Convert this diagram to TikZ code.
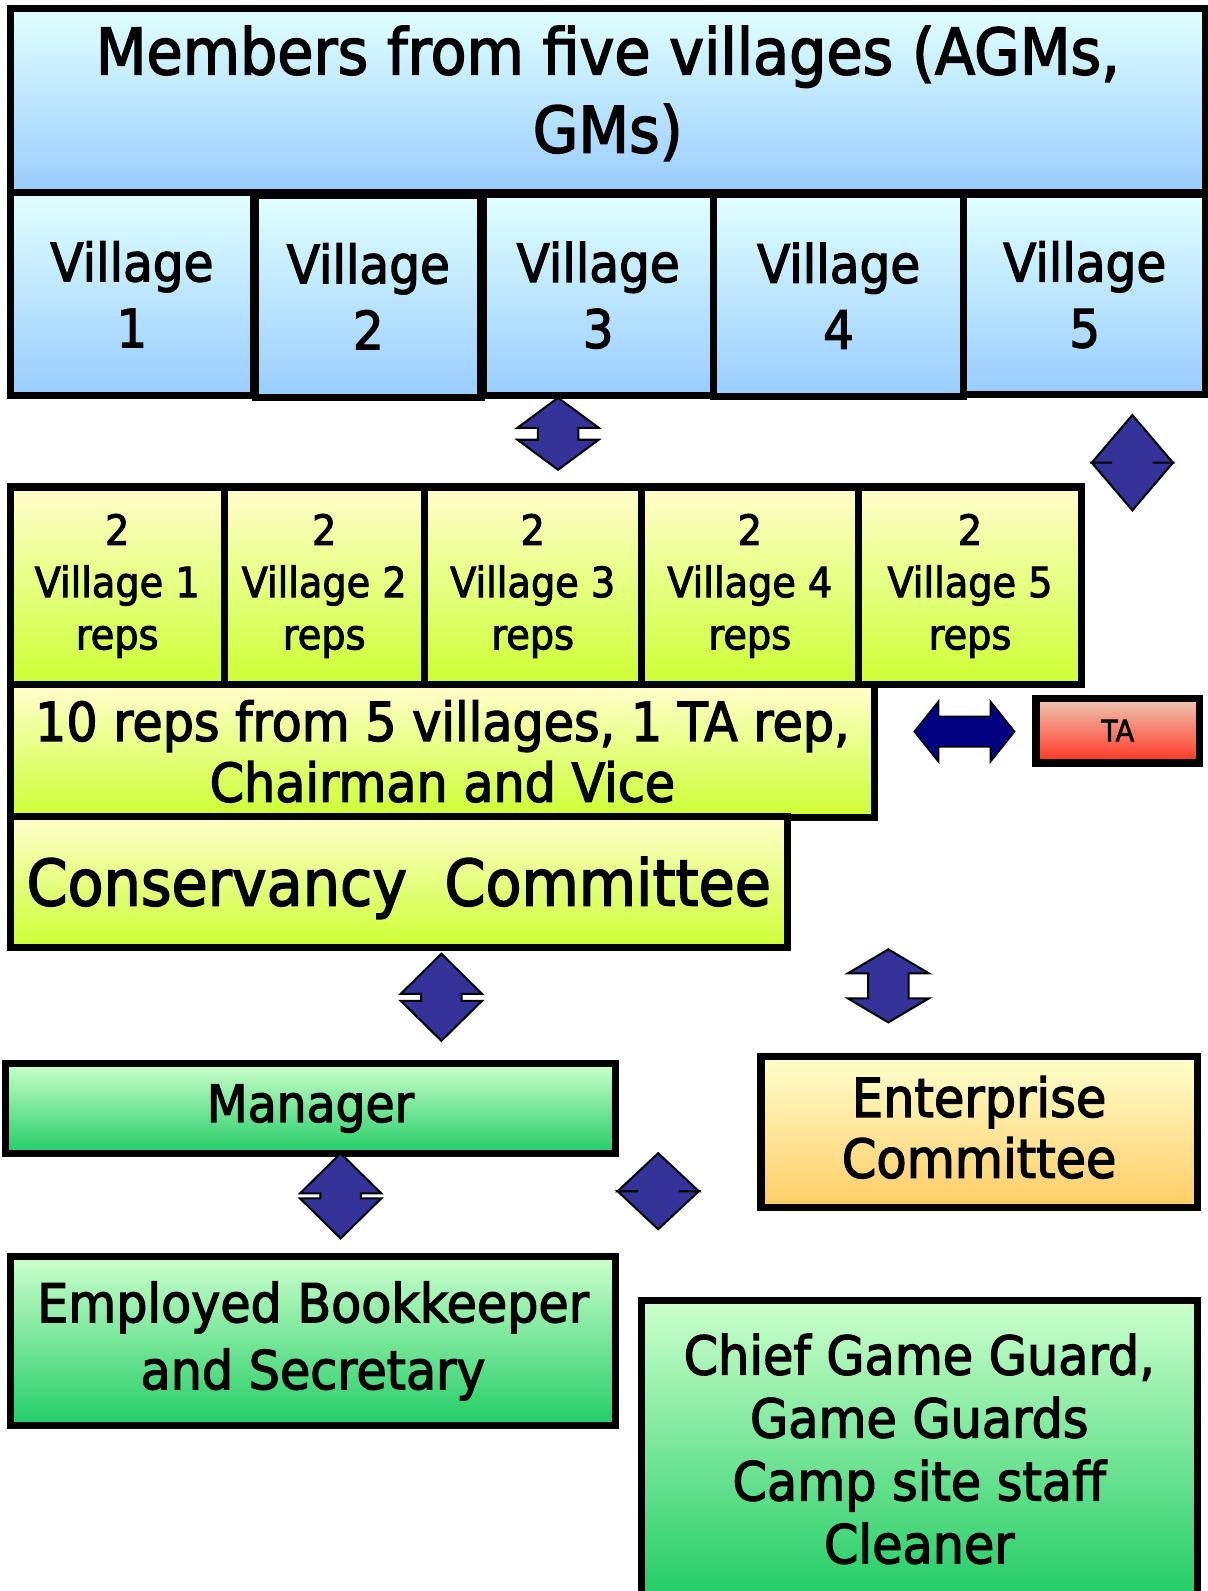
\documentclass[tikz,border=0pt]{standalone}
\usepackage{fontspec}
\setmainfont{DejaVu Sans}[FakeStretch=0.92,FakeBold=2.4]
\usetikzlibrary{positioning}

\definecolor{skytop}{HTML}{E0FFFF}
\definecolor{skybot}{HTML}{99CCFF}
\definecolor{limetop}{HTML}{FFFFCC}
\definecolor{limebot}{HTML}{CCFF33}
\definecolor{minttop}{HTML}{CCFFCC}
\definecolor{mintbot}{HTML}{22CC66}
\definecolor{sandtop}{HTML}{FFFFCC}
\definecolor{sandbot}{HTML}{FFCC66}
\definecolor{tatop}{HTML}{EEC8B4}
\definecolor{tabot}{HTML}{FF3322}
\definecolor{arrowblue}{HTML}{333399}
\definecolor{navy}{HTML}{000080}

\newcommand\fs[2]{\fontsize{#1}{#2}\selectfont}

\tikzset{
  box/.style={draw=black, line width=7pt, inner sep=0pt, align=center},
  skybox/.style={box, top color=skytop, bottom color=skybot},
  limebox/.style={box, top color=limetop, bottom color=limebot},
  mintbox/.style={box, top color=minttop, bottom color=mintbot},
  sandbox/.style={box, top color=sandtop, bottom color=sandbot},
  tabox/.style={box, top color=tatop, bottom color=tabot},
  blockarrow/.style={draw=black, line width=2pt, fill=arrowblue, line join=miter},
}

% up-down block arrow: name, x, top, head length, gap between heads
\newcommand\updown[5]{%
  \draw[blockarrow] (#2,#3) -- ++(40,#4) -- ++(-20,0) -- ++(0,#5) -- ++(20,0)
    -- ++(-40,#4) -- ++(-40,-#4) -- ++(20,0) -- ++(0,-#5) -- ++(-20,0) -- cycle;
  \coordinate (#1) at (#2,#3+#4+0.5*#5);
}

\begin{document}
\begin{tikzpicture}[x=1pt,y=-1pt]
  \useasboundingbox (0,0) rectangle (1190,1568);

  % general meeting and the five villages
  \node[skybox, minimum width=1178pt, minimum height=182pt] (members) at (599,99) {};
  \node[align=center, inner sep=0pt, font=\fs{63}{77}] (memberstext) at (599,92)
    {Members from five villages (AGMs,\\GMs)};
  \node[skybox, minimum width=240pt, minimum height=200pt, font=\fs{52}{65}]
    (vil1) at (130,290) {Village\\1};
  \node[skybox, minimum width=222pt, minimum height=199pt, font=\fs{52}{65}]
    (vil2) at (363,292) {Village\\2};
  \node[skybox, minimum width=227pt, minimum height=198pt, font=\fs{52}{65}]
    (vil3) at (589.5,291) {Village\\3};
  \node[skybox, minimum width=247pt, minimum height=199pt, font=\fs{52}{65}]
    (vil4) at (826.5,291.5) {Village\\4};
  \node[skybox, minimum width=238pt, minimum height=197pt, font=\fs{52}{65}]
    (vil5) at (1069,290.5) {Village\\5};

  \updown{upA}{550}{392}{29.6}{11.8}
  \updown{upB}{1116}{409}{47}{0}

  % committee representatives
  \node[limebox, minimum width=211pt, minimum height=195pt, font=\fs{41}{51.5}]
    (rep1) at (115.5,577.5) {2\\Village 1\\reps};
  \node[limebox, minimum width=197pt, minimum height=195pt, font=\fs{41}{51.5}]
    (rep2) at (319.5,577.5) {2\\Village 2\\reps};
  \node[limebox, minimum width=214pt, minimum height=195pt, font=\fs{41}{51.5}]
    (rep3) at (525,577.5) {2\\Village 3\\reps};
  \node[limebox, minimum width=214pt, minimum height=195pt, font=\fs{41}{51.5}]
    (rep4) at (739,577.5) {2\\Village 4\\reps};
  \node[limebox, minimum width=220pt, minimum height=195pt, font=\fs{41}{51.5}]
    (rep5) at (956,577.5) {2\\Village 5\\reps};
  \node[limebox, minimum width=852pt, minimum height=131pt, font=\fs{52.7}{60}]
    (tenreps) at (436,740.5) {10 reps from 5 villages, 1 TA rep,\\Chairman and Vice};
  \node[limebox, minimum width=766pt, minimum height=129pt, font=\fs{63}{75}]
    (cc) at (393,869.5) {};
  \node[inner sep=0pt, font=\fs{63}{75}] (cctext) at (393,875) {Conservancy\ \ Committee};

  % traditional authority
  \node[tabox, minimum width=161pt, minimum height=64pt, font=\fs{29}{30}]
    (ta) at (1101.5,720) {TA};
  \draw[draw=black, line width=1.5pt, fill=navy] (901,721) -- ++(24,-30) -- ++(0,15)
    -- ++(51,0) -- ++(0,-15) -- ++(24,30) -- ++(-24,30) -- ++(0,-15) -- ++(-51,0)
    -- ++(0,15) -- cycle;

  \updown{upC}{435}{940}{39.4}{7}
  \updown{upD}{875.5}{935.6}{23.7}{24.6}

  % staff
  \node[mintbox, minimum width=602pt, minimum height=89pt, font=\fs{50.6}{60}]
    (manager) at (306,1092.5) {Manager};
  \node[sandbox, minimum width=430pt, minimum height=149pt, font=\fs{53}{60}]
    (enterprise) at (965,1115.5) {};
  \node[align=center, inner sep=0pt, font=\fs{53}{60}] (enterprisetext) at (965,1111)
    {Enterprise\\Committee};

  \updown{upE}{335.7}{1136.7}{39.4}{5}
  \updown{upF}{648.7}{1136.5}{37.5}{0}

  \node[mintbox, minimum width=597pt, minimum height=167pt, font=\fs{52.7}{66}]
    (bookkeeper) at (308.5,1321.5) {Employed Bookkeeper\\and Secretary};
  \node[mintbox, minimum width=548pt, minimum height=292pt, font=\fs{52.8}{62}]
    (guards) at (906,1428) {Chief Game Guard,\\Game Guards\\Camp site staff\\Cleaner};
\end{tikzpicture}
\end{document}
